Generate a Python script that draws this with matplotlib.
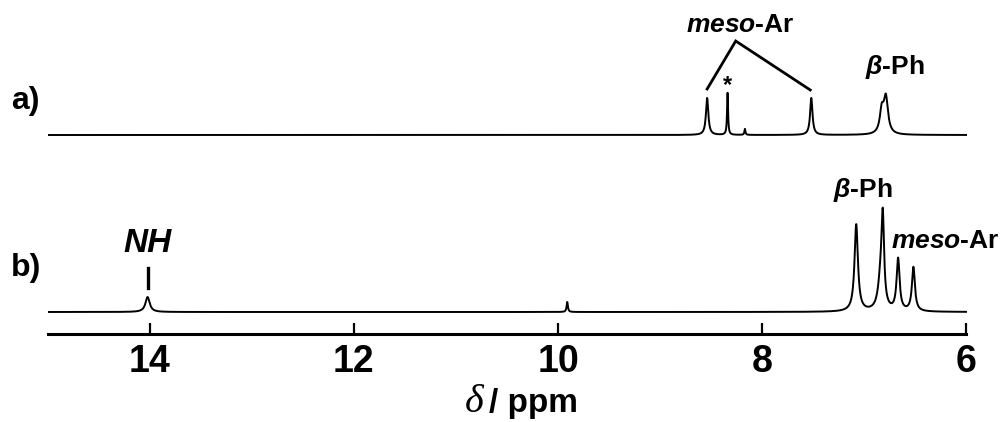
import numpy as np
import matplotlib
matplotlib.use("Agg")
import matplotlib.pyplot as plt

plt.rcParams["font.family"] = ["Liberation Sans", "DejaVu Sans"]
plt.rcParams["font.weight"] = "bold"
plt.rcParams["mathtext.fontset"] = "custom"
plt.rcParams["mathtext.it"] = "Liberation Sans:italic:bold"
plt.rcParams["mathtext.bf"] = "Liberation Sans:bold"
plt.rcParams["mathtext.rm"] = "Liberation Sans:bold"

# ---- peak lists (ppm, height, FWHM in ppm) ----
# a) spectrum
a_pos = [8.54, 8.34, 8.17, 7.52, 6.83, 6.79]
a_height = [37, 42, 6, 37, 22, 36]
a_width = [0.028, 0.012, 0.012, 0.028, 0.045, 0.05]
a_offset = 199

# b) spectrum
b_pos = [14.02, 9.91, 7.08, 6.84, 6.82, 6.67, 6.52]
b_height = [15, 10, 87, 30, 82, 52, 44]
b_width = [0.05, 0.015, 0.04, 0.06, 0.03, 0.035, 0.035]
b_offset = 22

tick_values = [14, 12, 10, 8, 6]
tick_labels = ["14", "12", "10", "8", "6"]

ppm = np.linspace(15.0, 6.0, 9001)


def spectrum(pos, height, width, offset):
    y = np.full_like(ppm, float(offset))
    for p, h, w in zip(pos, height, width):
        y += h / (1.0 + ((ppm - p) / (w / 2.0)) ** 2)
    return y


fig = plt.figure(figsize=(10.01, 4.22), dpi=100)
ax = fig.add_axes([47.5 / 1001, 88 / 422, (966.5 - 47.5) / 1001, 334 / 422])
ax.set_xlim(15, 6)
ax.set_ylim(0, 334)

ax.plot(ppm, spectrum(a_pos, a_height, a_width, a_offset), color="black", lw=1.4)
ax.plot(ppm, spectrum(b_pos, b_height, b_width, b_offset), color="black", lw=1.4)

for s in ["left", "right", "top"]:
    ax.spines[s].set_visible(False)
ax.spines["bottom"].set_linewidth(2.2)
ax.set_yticks([])
ax.set_xticks(tick_values)
ax.set_xticklabels(tick_labels)
ax.tick_params(axis="x", direction="in", length=8, width=1.6, pad=7,
               labelsize=27)
for lab in ax.get_xticklabels():
    lab.set_fontweight("bold")

# axis title: serif italic delta followed by bold "/ ppm"
ax.text(0.475, -0.2335, "δ", transform=ax.transAxes, ha="right",
        va="baseline", fontsize=29, family="Liberation Serif",
        style="italic", fontweight="normal")
ax.text(0.480, -0.2335, "/ ppm", transform=ax.transAxes, ha="left",
        va="baseline", fontsize=24, fontweight="bold")

# spectrum tags
fig.text(11 / 1001, 1 - 101 / 422, "a)", fontsize=23, fontweight="bold",
         va="center", ha="left")
fig.text(11 / 1001, 1 - 268 / 422, "b)", fontsize=23, fontweight="bold",
         va="center", ha="left")

# a) annotations
ax.text(8.22, 334 - 25, r"$\mathit{meso}$-Ar", fontsize=19, ha="center",
        va="center", fontweight="bold")
ax.plot([8.54, 8.26, 7.53], [334 - 89, 334 - 41, 334 - 90], color="black",
        lw=2.0, solid_joinstyle="miter")
ax.text(8.34, 334 - 92, "*", fontsize=17, ha="center", va="baseline",
        fontweight="bold")
ax.text(6.70, 334 - 67, r"$\mathit{\beta}$-Ph", fontsize=19, ha="center",
        va="center", fontweight="bold")

# b) annotations
ax.text(14.02, 334 - 243, "NH", fontsize=24, ha="center", va="center",
        fontweight="bold", style="italic")
ax.plot([14.02, 14.02], [334 - 268, 334 - 288], color="black", lw=2.4)
ax.text(7.01, 334 - 190, r"$\mathit{\beta}$-Ph", fontsize=19, ha="center",
        va="center", fontweight="bold")
ax.text(6.21, 334 - 241, r"$\mathit{meso}$-Ar", fontsize=19, ha="center",
        va="center", fontweight="bold", clip_on=False)

fig.savefig("out.png", dpi=100)
